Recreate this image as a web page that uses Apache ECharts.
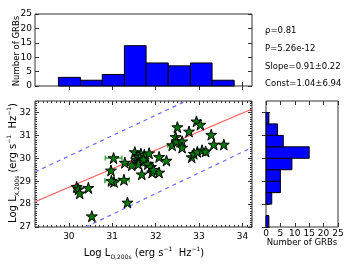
<!DOCTYPE html>
<html><head><meta charset="utf-8">
<script src="https://cdn.jsdelivr.net/npm/echarts@6/dist/echarts.min.js"></script>
<style>html,body{margin:0;padding:0;background:#fff}#c{width:360px;height:264px}</style>
</head><body><div id="c"></div>
<script>
// ---- data ----
const logLO = [30.18,30.22,30.25,30.45,30.53,31.03,30.97,31.04,30.98,31.29,31.27,31.35,31.52,31.55,31.58,31.62,31.66,31.70,31.68,31.60,31.74,31.72,31.45,31.85,31.82,31.89,31.92,32.08,32.08,32.25,31.95,32.38,32.46,32.50,32.48,32.61,32.61,32.77,32.94,33.03,33.28,32.83,32.88,32.96,33.07,33.15,33.34,33.57];
const logLX = [28.75,28.65,28.47,28.71,27.47,30.01,29.47,28.97,29.02,29.81,29.06,28.07,30.27,29.95,30.10,30.05,30.20,29.85,29.30,29.75,30.15,29.95,29.70,30.22,29.75,29.62,29.38,30.06,29.38,29.90,29.50,30.57,30.93,31.36,30.74,30.74,30.47,31.17,31.61,31.47,31.03,30.05,30.20,30.28,30.35,30.30,30.60,30.60];
const xErr  = [0,0,0,0,0,0.19,0,0,0.15,0,0.12,0,0,0,0,0,0,0,0,0,0,0.12,0,0,0.12,0,0,0,0,0,0,0.1,0,0,0,0,0,0,0,0,0,0,0,0,0,0.08,0,0];
const topHistEdges = [29.76,30.27,30.77,31.28,31.78,32.29,32.80,33.30,33.81];
const topHistCounts = [3,2,4,14,8,7,8,2];
const rightHistEdges = [27.0,27.5,28.0,28.5,29.0,29.5,30.0,30.5,31.0,31.5,32.0];
const rightHistCounts = [1,0,2,5,5,9,15,6,4,1];
const fitLine = [[29.22,28.10],[34.22,32.15]];
const upperLine = [[29.22,29.40],[32.70,32.50]];
const lowerLine = [[30.39,27.00],[34.22,30.47]];
const xTicks = [30,31,32,33,34];
const yTicks = [27,28,29,30,31,32];
const countTicks = [0,5,10,15,20,25];
const statsText = ['\u03c1=0.81','P=5.26e-12','Slope=0.91\u00b10.22','Const=1.04\u00b16.94'];

const XMIN = 29.22, XMAX = 34.22, YMIN = 27, YMAX = 32.5;
const FONT = 'DejaVu Sans';
const minorX = [], minorY = [];
for (let i = Math.ceil(XMIN*10); i <= Math.floor(XMAX*10); i++) if (i % 10) minorX.push(i/10);
for (let i = Math.ceil(YMIN*10); i <= Math.floor(YMAX*10); i++) if (i % 10) minorY.push(i/10);

const STAR = 'path://M0,-10 L2.245,-3.09 L9.511,-3.09 L3.633,1.18 L5.878,8.09 L0,3.82 L-5.878,8.09 L-3.633,1.18 L-9.511,-3.09 L-2.245,-3.09 Z';
const FRAME = '#333';
const LBL = {fontSize:9, fontFamily:FONT, color:'#000'};

function tickAxis(base, values, len) {
  return Object.assign({
    axisLine: {show: false},
    axisLabel: {show: false},
    axisTick: {show: true, inside: true, length: len, customValues: values, lineStyle: {color: FRAME, width: 1}},
    splitLine: {show: false}
  }, base);
}

const xAxis = [
  tickAxis({type:'value', gridIndex:0, min:XMIN, max:XMAX, position:'bottom'}, xTicks, 4),
  tickAxis({type:'value', gridIndex:0, min:XMIN, max:XMAX, position:'top'}, xTicks, 4),
  Object.assign(tickAxis({type:'value', gridIndex:1, min:XMIN, max:XMAX, position:'bottom'}, xTicks, 4),
    {axisLabel:Object.assign({show:true, customValues:xTicks, margin:5}, LBL)}),
  tickAxis({type:'value', gridIndex:1, min:XMIN, max:XMAX, position:'top'}, xTicks, 4),
  tickAxis({type:'value', gridIndex:1, min:XMIN, max:XMAX, position:'bottom'}, minorX, 2),
  tickAxis({type:'value', gridIndex:1, min:XMIN, max:XMAX, position:'top'}, minorX, 2),
  Object.assign(tickAxis({type:'value', gridIndex:2, min:0, max:25, position:'bottom'}, countTicks, 4),
    {axisLabel:Object.assign({show:true, customValues:countTicks, margin:2}, LBL)}),
  tickAxis({type:'value', gridIndex:2, min:0, max:25, position:'top'}, countTicks, 4)
];
const yAxis = [
  Object.assign(tickAxis({type:'value', gridIndex:0, min:0, max:25, position:'left'}, countTicks, 4),
    {axisLabel:Object.assign({show:true, customValues:countTicks, margin:3}, LBL)}),
  tickAxis({type:'value', gridIndex:0, min:0, max:25, position:'right'}, countTicks, 4),
  Object.assign(tickAxis({type:'value', gridIndex:1, min:YMIN, max:YMAX, position:'left'}, yTicks, 4),
    {axisLabel:Object.assign({show:true, customValues:yTicks, margin:4}, LBL)}),
  tickAxis({type:'value', gridIndex:1, min:YMIN, max:YMAX, position:'right'}, yTicks, 4),
  tickAxis({type:'value', gridIndex:1, min:YMIN, max:YMAX, position:'left'}, minorY, 2),
  tickAxis({type:'value', gridIndex:1, min:YMIN, max:YMAX, position:'right'}, minorY, 2),
  tickAxis({type:'value', gridIndex:2, min:YMIN, max:YMAX, position:'left'}, yTicks, 4),
  tickAxis({type:'value', gridIndex:2, min:YMIN, max:YMAX, position:'right'}, yTicks, 4)
];

const grid = [
  {left:35, top:14, width:217, height:72, show:true, borderColor:FRAME, borderWidth:1, backgroundColor:'#fff'},
  {left:35, top:101, width:217, height:126, show:true, borderColor:FRAME, borderWidth:1, backgroundColor:'#fff'},
  {left:266, top:101, width:72, height:126, show:true, borderColor:FRAME, borderWidth:1, backgroundColor:'#fff'}
];

const topBars = topHistCounts.map((c,i) => [topHistEdges[i], topHistEdges[i+1], c]);
const rightBars = rightHistCounts.map((c,i) => [rightHistEdges[i], rightHistEdges[i+1], c]).filter(d => d[2] > 0);
const stars = logLO.map((x,i) => [x, logLX[i]]);
const errs = logLO.map((x,i) => [x, logLX[i], xErr[i]]).filter(d => d[2] > 0);

const series = [
  {type:'custom', xAxisIndex:0, yAxisIndex:0, data:topBars, silent:true,
    renderItem:(p, api) => {
      const a = api.coord([api.value(0), api.value(2)]);
      const b = api.coord([api.value(1), 0]);
      return {type:'rect', shape:{x:a[0], y:a[1], width:b[0]-a[0], height:b[1]-a[1]},
        style:{fill:'#0000ff', stroke:'#000', lineWidth:1}};
    }},
  {type:'custom', xAxisIndex:6, yAxisIndex:6, data:rightBars, silent:true,
    renderItem:(p, api) => {
      const a = api.coord([0, api.value(1)]);
      const b = api.coord([api.value(2), api.value(0)]);
      return {type:'rect', shape:{x:a[0], y:a[1], width:b[0]-a[0], height:b[1]-a[1]},
        style:{fill:'#0000ff', stroke:'#000', lineWidth:1}};
    }},
  {type:'line', xAxisIndex:2, yAxisIndex:2, data:upperLine, showSymbol:false, silent:true, z:1,
    lineStyle:{color:'#6b6bff', width:1.2, type:[4,4]}},
  {type:'line', xAxisIndex:2, yAxisIndex:2, data:lowerLine, showSymbol:false, silent:true, z:1,
    lineStyle:{color:'#6b6bff', width:1.2, type:[4,4]}},
  {type:'line', xAxisIndex:2, yAxisIndex:2, data:fitLine, showSymbol:false, silent:true, z:1,
    lineStyle:{color:'#ff5a5a', width:1.2}},
  {type:'custom', xAxisIndex:2, yAxisIndex:2, data:errs, silent:true, z:2,
    renderItem:(p, api) => {
      const l = api.coord([api.value(0)-api.value(2), api.value(1)]);
      const r = api.coord([api.value(0)+api.value(2), api.value(1)]);
      const st = {stroke:'#3faa3f', lineWidth:1.5};
      return {type:'group', children:[
        {type:'line', shape:{x1:l[0], y1:l[1], x2:r[0], y2:r[1]}, style:st},
        {type:'line', shape:{x1:l[0], y1:l[1]-2.5, x2:l[0], y2:l[1]+2.5}, style:st},
        {type:'line', shape:{x1:r[0], y1:r[1]-2.5, x2:r[0], y2:r[1]+2.5}, style:st}
      ]};
    }},
  {type:'scatter', xAxisIndex:2, yAxisIndex:2, data:stars, symbol:STAR, symbolSize:11, silent:true, z:3,
    itemStyle:{color:'#007a00', borderColor:'#000', borderWidth:1, opacity:1}}
];

const rich = {
  a:{fontSize:10, fontFamily:FONT, color:'#000', lineHeight:14, verticalAlign:'middle'},
  s:{fontSize:6, fontFamily:FONT, color:'#000', lineHeight:14, verticalAlign:'bottom'},
  p:{fontSize:6, fontFamily:FONT, color:'#000', lineHeight:14, verticalAlign:'top'}
};

const graphic = [
  {type:'text', x:17, y:51, rotation:Math.PI/2,
    style:{text:'Number of GRBs', font:'8.5px "DejaVu Sans"', fill:'#000', textAlign:'center', textVerticalAlign:'middle'}},
  {type:'text', x:302, y:243,
    style:{text:'Number of GRBs', font:'8.5px "DejaVu Sans"', fill:'#000', textAlign:'center', textVerticalAlign:'middle'}},
  {type:'text', x:144, y:253,
    style:{text:'{a|Log L}{s|O,200s}{a| (erg s}{p|\u22121}{a|  Hz}{p|\u22121}{a|)}', rich:rich, textAlign:'center', textVerticalAlign:'middle'}},
  {type:'text', x:13, y:163, rotation:Math.PI/2,
    style:{text:'{a|Log L}{s|X,200s}{a| (erg s}{p|\u22121}{a|  Hz}{p|\u22121}{a|)}', rich:rich, textAlign:'center', textVerticalAlign:'middle'}}
].concat(statsText.map((t,i) => ({type:'text', x:265, y:31 + i*17.7,
    style:{text:t, font:'8.5px "DejaVu Sans"', fill:'#000', textAlign:'left', textVerticalAlign:'middle'}})));

const chart = echarts.init(document.getElementById('c'), null, {renderer:'canvas'});
chart.setOption({animation:false, backgroundColor:'#fff', grid, xAxis, yAxis, series, graphic});
</script>
</body></html>
